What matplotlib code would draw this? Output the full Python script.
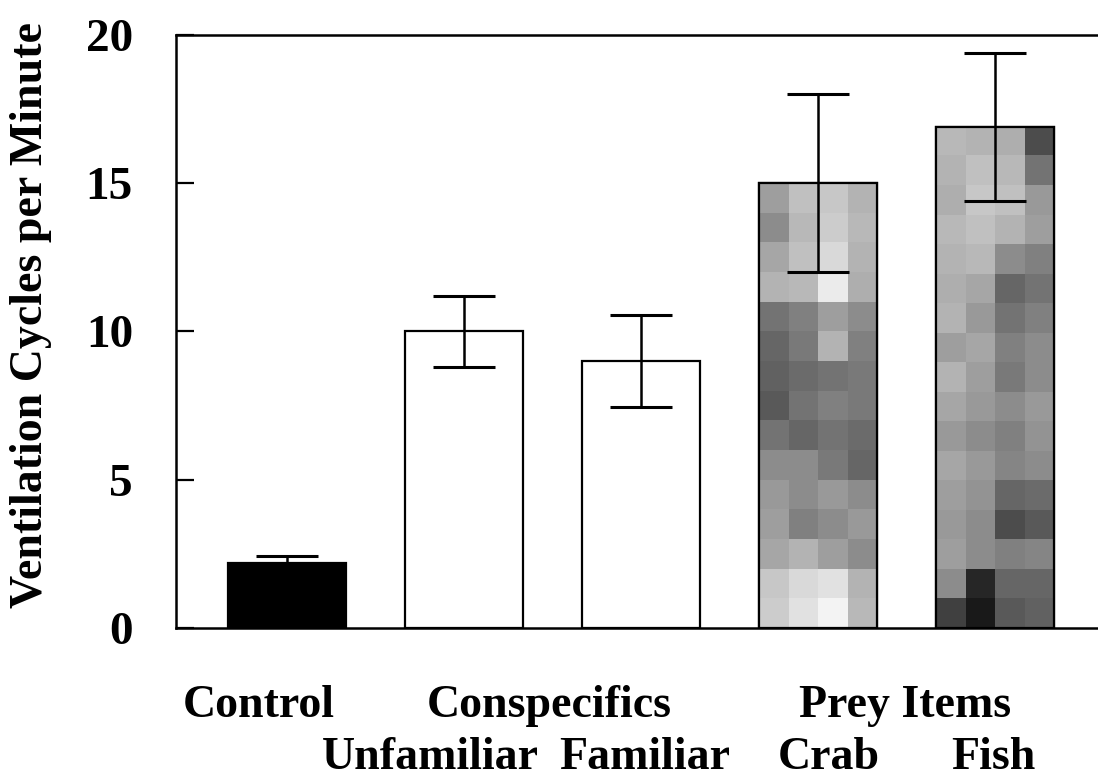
import matplotlib
matplotlib.use("Agg")
import matplotlib.pyplot as plt
import numpy as np

plt.rcParams['font.family'] = ['Liberation Serif', 'DejaVu Serif']
plt.rcParams['font.weight'] = 'bold'

# data
groups = ["Control", "Unfamiliar", "Familiar", "Crab", "Fish"]
means = [2.2, 10.0, 9.0, 15.0, 16.9]
errors = [0.23, 1.2, 1.55, 3.0, 2.5]
fills = ["black", "white", "white", "texture", "texture"]

# top row of category labels (text, x position in bar units)
top_labels = ["Control", "Conspecifics", "Prey Items"]
top_label_x = [-0.16, 1.48, 3.49]
bottom_labels = ["Unfamiliar", "Familiar", "Crab", "Fish"]
bottom_label_x = [0.81, 2.02, 3.06, 3.99]

# mottled grey fill used for the prey bars (rows top -> bottom)
crab_texture = [
    [0.62, 0.75, 0.78, 0.70],
    [0.55, 0.72, 0.80, 0.72],
    [0.65, 0.75, 0.85, 0.70],
    [0.70, 0.72, 0.92, 0.68],
    [0.45, 0.50, 0.62, 0.55],
    [0.40, 0.48, 0.70, 0.50],
    [0.38, 0.42, 0.45, 0.48],
    [0.35, 0.45, 0.50, 0.48],
    [0.45, 0.40, 0.45, 0.42],
    [0.55, 0.55, 0.48, 0.40],
    [0.60, 0.55, 0.60, 0.55],
    [0.62, 0.50, 0.55, 0.60],
    [0.65, 0.70, 0.62, 0.55],
    [0.78, 0.85, 0.88, 0.70],
    [0.80, 0.88, 0.95, 0.72],
]
fish_texture = [
    [0.72, 0.70, 0.68, 0.30],
    [0.70, 0.75, 0.72, 0.45],
    [0.68, 0.78, 0.75, 0.60],
    [0.72, 0.75, 0.70, 0.62],
    [0.70, 0.72, 0.55, 0.50],
    [0.68, 0.65, 0.40, 0.45],
    [0.70, 0.60, 0.45, 0.50],
    [0.62, 0.65, 0.50, 0.55],
    [0.70, 0.62, 0.48, 0.55],
    [0.65, 0.60, 0.55, 0.60],
    [0.60, 0.55, 0.50, 0.58],
    [0.65, 0.60, 0.52, 0.55],
    [0.62, 0.58, 0.40, 0.42],
    [0.60, 0.55, 0.30, 0.35],
    [0.62, 0.55, 0.50, 0.52],
    [0.55, 0.15, 0.40, 0.40],
    [0.25, 0.10, 0.35, 0.38],
]
textures = {"Crab": crab_texture, "Fish": fish_texture}

fig = plt.figure(figsize=(10.98, 7.81), dpi=100)
ax = fig.add_axes([0.1603, 0.1959, 0.8397, 0.7593])

x = np.arange(len(groups))
width = 0.672
bars = ax.bar(x, means, width, color=["white" if f == "texture" else f for f in fills],
              edgecolor="black", linewidth=1.6, zorder=2)

for i, b in enumerate(bars):
    if fills[i] == "texture":
        tex = np.array(textures[groups[i]])
        im = ax.imshow(tex, cmap="gray", vmin=0, vmax=1, interpolation="nearest",
                       extent=[x[i] - width / 2, x[i] + width / 2, 0, means[i]],
                       aspect="auto", zorder=2.5)
        im.set_clip_path(b)
        ax.bar(x[i], means[i], width, fill=False, edgecolor="black",
               linewidth=1.6, zorder=3)

ax.errorbar(x, means, yerr=errors, fmt="none", ecolor="black", elinewidth=1.8,
            capsize=22, capthick=2.2, zorder=4)

ax.set_xlim(-0.627, 4.582)
ax.set_ylim(0, 20)
ax.set_yticks([0, 5, 10, 15, 20])
ax.set_xticks([])
ax.tick_params(axis="y", direction="in", length=13, width=1.6, pad=31, labelsize=34)
for lab in ax.get_yticklabels():
    lab.set_fontweight("bold")

ax.spines["right"].set_visible(False)
for s in ["left", "bottom", "top"]:
    ax.spines[s].set_linewidth(1.8)

tr = ax.get_xaxis_transform()
for t, px in zip(top_labels, top_label_x):
    ax.text(px, -0.15, t, transform=tr, ha="center", va="baseline",
            fontsize=33, fontweight="bold", clip_on=False)
for t, px in zip(bottom_labels, bottom_label_x):
    ax.text(px, -0.238, t, transform=tr, ha="center", va="baseline",
            fontsize=33, fontweight="bold", clip_on=False)

fig.text(0.028, 0.597, "Ventilation Cycles per Minute", rotation=90,
         ha="center", va="center", fontsize=33, fontweight="bold")

fig.savefig("out.png", dpi=100)
